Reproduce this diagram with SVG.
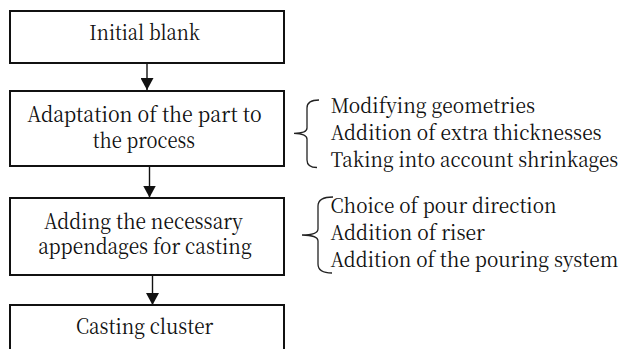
<svg xmlns="http://www.w3.org/2000/svg" width="622" height="349" viewBox="0 0 622 349">
<style>
.box{fill:#fff;stroke:#111;stroke-width:2}
.t{font-family:'Noto Serif CJK SC','Liberation Serif',serif;font-size:21px;fill:#111}
.r{font-family:'Noto Serif CJK SC','Liberation Serif',serif;font-size:20px;fill:#111}
.ln{stroke:#111;stroke-width:1.4;fill:none}
.br{stroke:#222;stroke-width:1.3;fill:none}
</style>
<defs>
<marker id="ah" markerWidth="13" markerHeight="13" refX="12" refY="6.5" orient="auto" markerUnits="userSpaceOnUse">
<path d="M0,0 L12,6.5 L0,13 Z" fill="#111"/>
</marker>
</defs>
<rect width="622" height="349" fill="#fff"/>
<g id="connectors">
<line class="ln" x1="147" y1="63" x2="147" y2="90" marker-end="url(#ah)"/>
<line class="ln" x1="149.5" y1="166" x2="149.5" y2="197.5" marker-end="url(#ah)"/>
<line class="ln" x1="152.5" y1="275" x2="152.5" y2="305" marker-end="url(#ah)"/>
</g>
<g id="n1">
<rect class="box" x="10" y="11" width="274" height="52"/>
<text class="t" x="89.3" y="40" textLength="110.7" lengthAdjust="spacingAndGlyphs">Initial blank</text>
</g>
<g id="n2">
<rect class="box" x="10" y="91" width="274" height="75"/>
<text class="t" x="27.3" y="121.7" textLength="234.4" lengthAdjust="spacingAndGlyphs">Adaptation of the part to</text>
<text class="t" x="92.7" y="148.3" textLength="102.3" lengthAdjust="spacingAndGlyphs">the process</text>
</g>
<g id="n3">
<rect class="box" x="10" y="198" width="274" height="77"/>
<text class="t" x="44" y="228.5" textLength="198.7" lengthAdjust="spacingAndGlyphs">Adding the necessary</text>
<text class="t" x="38.3" y="254" textLength="213.4" lengthAdjust="spacingAndGlyphs">appendages for casting</text>
</g>
<g id="n4">
<rect class="box" x="10" y="305" width="274" height="60"/>
<text class="t" x="76" y="334" textLength="137.3" lengthAdjust="spacingAndGlyphs">Casting cluster</text>
</g>
<g id="list1">
<path class="br" d="M319,100 Q307,100 307,108 L307,128 Q307,133.3 294,133.3 Q307,133.6 307,139 L307,160 Q307,167.5 317,167.5"/>
<text class="r" x="330.7" y="112.5" textLength="204.3" lengthAdjust="spacingAndGlyphs">Modifying geometries</text>
<text class="r" x="330.7" y="139.5" textLength="271" lengthAdjust="spacingAndGlyphs">Addition of extra thicknesses</text>
<text class="r" x="330.7" y="166.5" textLength="287.6" lengthAdjust="spacingAndGlyphs">Taking into account shrinkages</text>
</g>
<g id="list2">
<path class="br" d="M333,197 Q318,197 318,206 L318,229 Q318,235 302,235 Q318,235.3 318,241 L318,264 Q318,273 332,273"/>
<text class="r" x="330.5" y="213" textLength="226" lengthAdjust="spacingAndGlyphs">Choice of pour direction</text>
<text class="r" x="330.5" y="240" textLength="154.5" lengthAdjust="spacingAndGlyphs">Addition of riser</text>
<text class="r" x="330.5" y="266.7" textLength="287.8" lengthAdjust="spacingAndGlyphs">Addition of the pouring system</text>
</g>
</svg>
